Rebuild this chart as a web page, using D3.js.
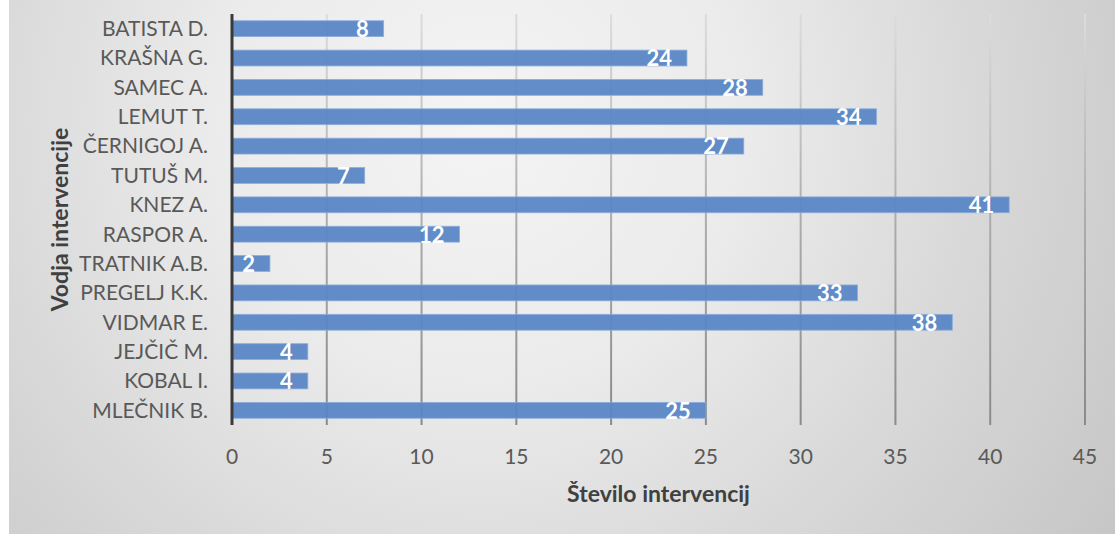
<!DOCTYPE html>
<html>
<head>
<meta charset="utf-8">
<script src="https://cdn.jsdelivr.net/npm/d3@7"></script>
<style>
  html, body { margin: 0; padding: 0; background: #ffffff; }
  svg { display: block; }
  text { font-family: Lato, "Open Sans", sans-serif; }
</style>
</head>
<body>
<svg id="chart" width="1115" height="534"></svg>
<script>
// ---- data ----
const categories = ["BATISTA D.", "KRAŠNA G.", "SAMEC A.", "LEMUT T.", "ČERNIGOJ A.", "TUTUŠ M.", "KNEZ A.", "RASPOR A.", "TRATNIK A.B.", "PREGELJ K.K.", "VIDMAR E.", "JEJČIČ M.", "KOBAL I.", "MLEČNIK B."];
const values = [8, 24, 28, 34, 27, 7, 41, 12, 2, 33, 38, 4, 4, 25];
const xTicks = [0, 5, 10, 15, 20, 25, 30, 35, 40, 45];
const xTitle = "Število intervencij";
const yTitle = "Vodja intervencije";

const W = 1115, H = 534;
const plot = { left: 232, right: 1085, top: 14, bottom: 425 };

const svg = d3.select("#chart");
const defs = svg.append("defs");

const bg = defs.append("radialGradient").attr("id", "bg")
  .attr("gradientUnits", "userSpaceOnUse")
  .attr("cx", 480).attr("cy", 120).attr("r", 760)
  .attr("fx", 480).attr("fy", 120);
bg.append("stop").attr("offset", 0).attr("stop-color", "#f4f4f4");
bg.append("stop").attr("offset", 0.35).attr("stop-color", "#ebebeb");
bg.append("stop").attr("offset", 0.7).attr("stop-color", "#d6d6d6");
bg.append("stop").attr("offset", 1).attr("stop-color", "#c6c6c6");

const gg = defs.append("linearGradient").attr("id", "grid")
  .attr("gradientUnits", "userSpaceOnUse")
  .attr("x1", 0).attr("y1", plot.top).attr("x2", 0).attr("y2", plot.bottom);
gg.append("stop").attr("offset", 0).attr("stop-color", "#dcdcdc");
gg.append("stop").attr("offset", 0.5).attr("stop-color", "#acacac");
gg.append("stop").attr("offset", 1).attr("stop-color", "#8a8a8a");

svg.append("rect").attr("x", 0).attr("y", 0).attr("width", W).attr("height", H).attr("fill", "#ffffff");
svg.append("rect").attr("x", 9).attr("y", 0).attr("width", W - 9).attr("height", H).attr("fill", "url(#bg)");

const x = d3.scaleLinear().domain([0, 45]).range([plot.left, plot.right]);
const y = d3.scaleBand().domain(categories).range([plot.top, plot.bottom]).paddingInner(0.46).paddingOuter(0.23);

// gridlines
svg.append("g").selectAll("line").data(xTicks.filter(t => t > 0)).join("line")
  .attr("x1", d => x(d)).attr("x2", d => x(d))
  .attr("y1", plot.top).attr("y2", plot.bottom)
  .attr("stroke", "url(#grid)").attr("stroke-width", 2);

// bars
const data = categories.map((c, i) => ({ c, v: values[i] }));
svg.append("g").selectAll("rect").data(data).join("rect")
  .attr("x", x(0))
  .attr("y", d => y(d.c))
  .attr("width", d => x(d.v) - x(0))
  .attr("height", y.bandwidth())
  .attr("fill", "#5886c5")
  .attr("fill-opacity", 0.94)
  .attr("stroke", "#8caddb").attr("stroke-width", 0.8);

// value labels
svg.append("g").selectAll("text").data(data).join("text")
  .attr("x", d => x(d.v) - 15)
  .attr("y", d => y(d.c) + y.bandwidth() / 2)
  .attr("dy", "0.38em")
  .attr("text-anchor", "end")
  .attr("fill", "#ffffff")
  .attr("font-weight", "bold")
  .attr("font-size", 22)
  .text(d => d.v);

// y axis line
svg.append("line")
  .attr("x1", x(0)).attr("x2", x(0))
  .attr("y1", plot.top).attr("y2", plot.bottom)
  .attr("stroke", "#3a3a3a").attr("stroke-width", 3);

// category labels
svg.append("g").selectAll("text").data(categories).join("text")
  .attr("x", 208)
  .attr("y", d => y(d) + y.bandwidth() / 2)
  .attr("dy", "0.35em")
  .attr("text-anchor", "end")
  .attr("fill", "#595959")
  .attr("font-size", 21)
  .text(d => d);

// x tick labels
svg.append("g").selectAll("text").data(xTicks).join("text")
  .attr("x", d => x(d))
  .attr("y", 464)
  .attr("text-anchor", "middle")
  .attr("fill", "#595959")
  .attr("font-size", 21)
  .text(d => d);

// axis titles
svg.append("text")
  .attr("x", (plot.left + plot.right) / 2).attr("y", 502)
  .attr("text-anchor", "middle")
  .attr("fill", "#404040").attr("font-weight", "bold").attr("font-size", 23)
  .text(xTitle);

svg.append("text")
  .attr("transform", `translate(68, ${(plot.top + plot.bottom) / 2}) rotate(-90)`)
  .attr("text-anchor", "middle")
  .attr("fill", "#404040").attr("font-weight", "bold").attr("font-size", 23)
  .text(yTitle);
</script>
</body>
</html>
